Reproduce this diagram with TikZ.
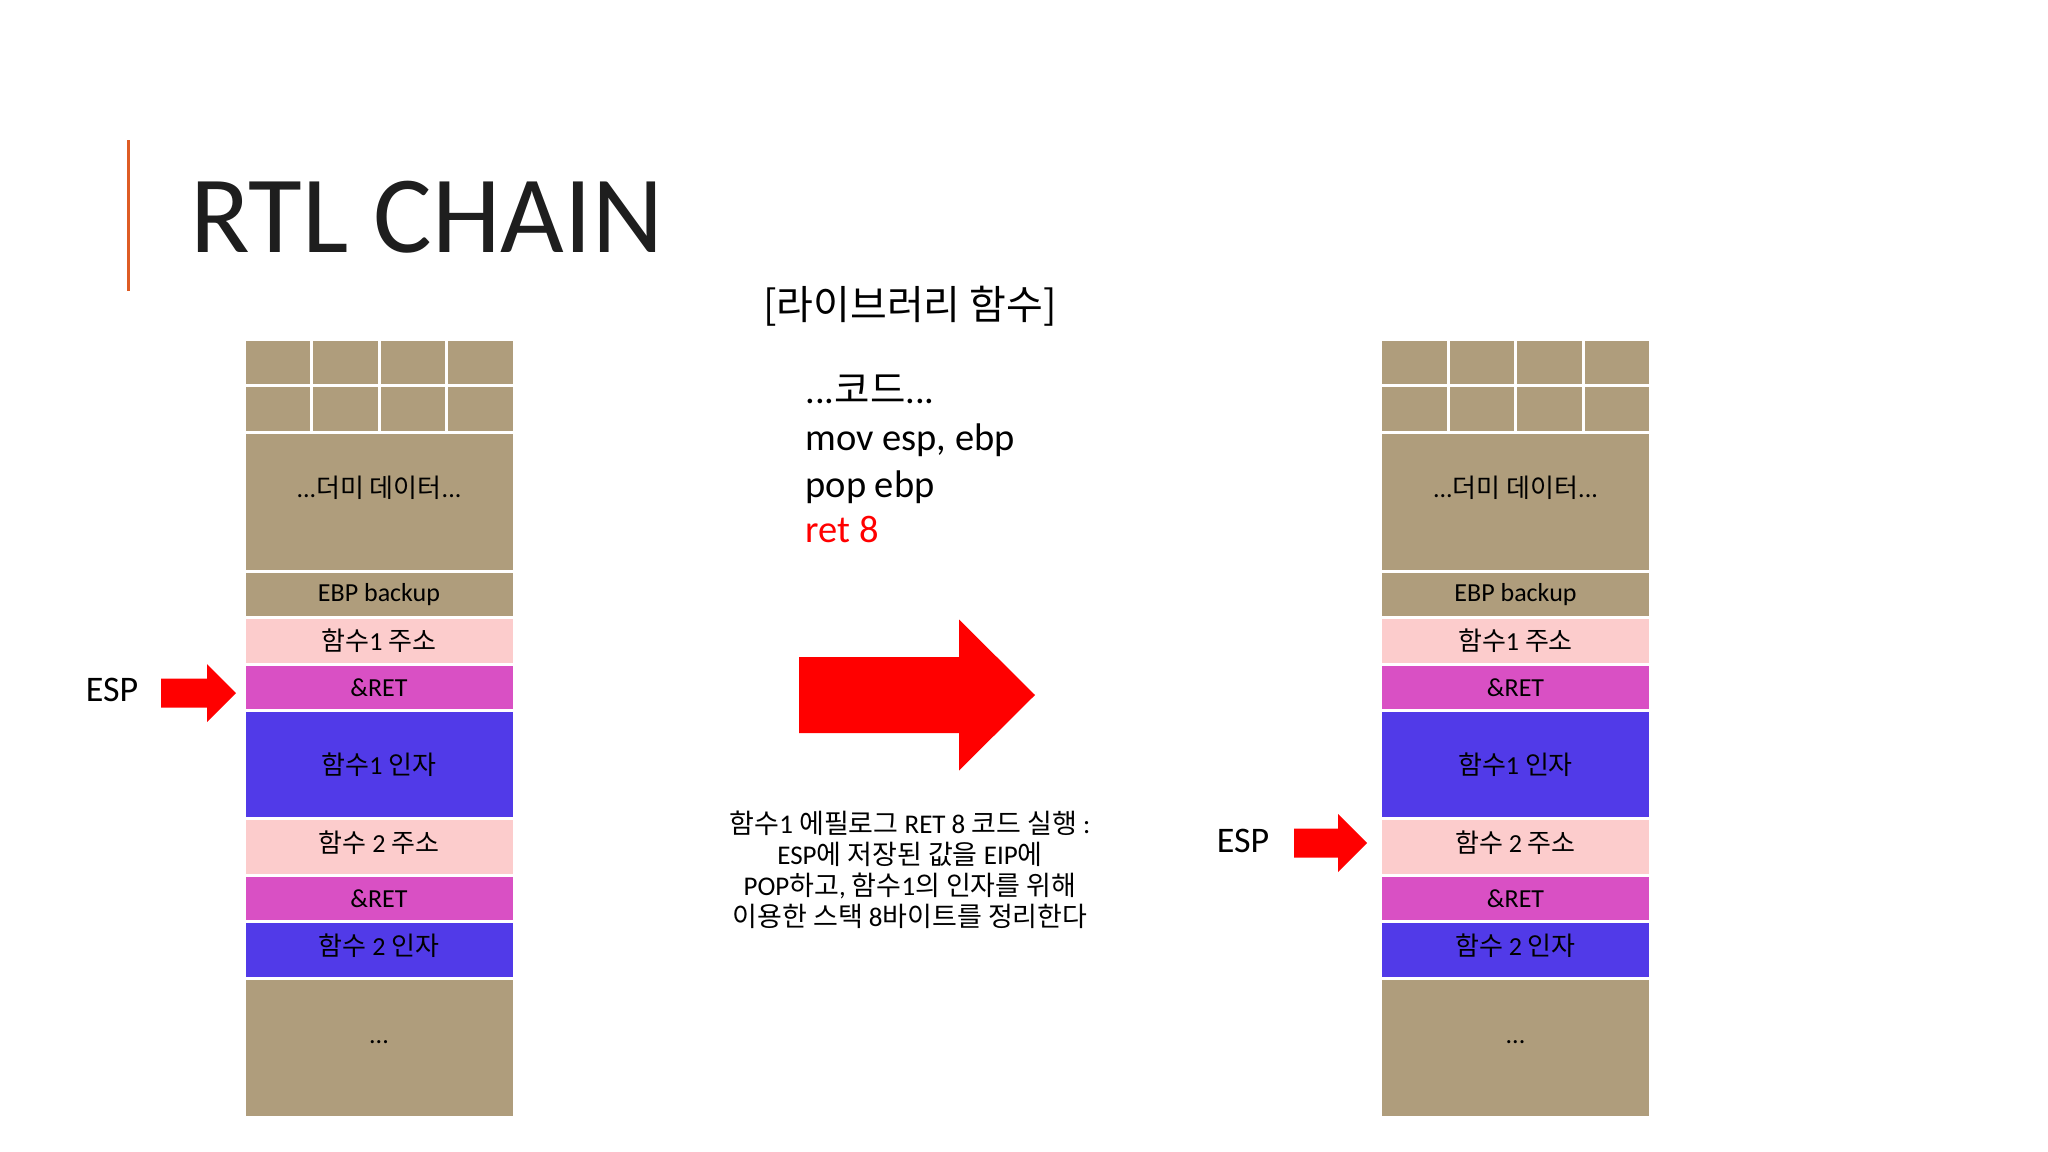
\documentclass[tikz,border=0pt]{standalone}
\usepackage{fontspec}
\setmainfont{Carlito}
\newfontfamily\krfont{Noto Sans CJK KR}
\newcommand{\ko}[1]{{\krfont #1}}
\usepackage{tikz}
\usetikzlibrary{positioning}

\definecolor{stackbrown}{RGB}{175,157,124}
\definecolor{stackpink}{RGB}{252,204,204}
\definecolor{stackmagenta}{RGB}{217,80,196}
\definecolor{stackblue}{RGB}{81,58,232}
\definecolor{titleorange}{RGB}{222,92,36}
\definecolor{titleblack}{RGB}{30,30,30}
\definecolor{arrowred}{RGB}{255,0,0}

\begin{document}
\begin{tikzpicture}[yscale=-1,
  cell/.style={draw=white,line width=3bp,inner sep=0pt,minimum width=270bp,
    text=black,font=\fontsize{26bp}{30bp}\selectfont},
  grid/.style={cell,fill=stackbrown,minimum width=67.5bp,minimum height=46.5bp},
  code/.style={anchor=base west,text=black,font=\fontsize{38.5bp}{44bp}\selectfont},
  esplabel/.style={text=black,font=\fontsize{36bp}{40bp}\selectfont},
]
\fill[white] (0bp,0bp) rectangle (2048bp,1152bp);
\useasboundingbox (0bp,0bp) rectangle (2048bp,1152bp);
%%
\draw[titleorange,line width=3bp] (128bp,140bp) -- (128bp,291bp);
\node (title) at (190bp,252bp) [anchor=base west,inner sep=0pt,text=titleblack,font=\fontsize{110bp}{114bp}\selectfont] {RTL CHAIN};
%% left stack
\node (l-g1) at (277.75bp,362.25bp) [grid] {};
\node (l-g2) at (345.25bp,362.25bp) [grid] {};
\node (l-g3) at (412.75bp,362.25bp) [grid] {};
\node (l-g4) at (480.25bp,362.25bp) [grid] {};
\node (l-g5) at (277.75bp,408.75bp) [grid] {};
\node (l-g6) at (345.25bp,408.75bp) [grid] {};
\node (l-g7) at (412.75bp,408.75bp) [grid] {};
\node (l-g8) at (480.25bp,408.75bp) [grid] {};
\node (l-dummy) at (379bp,501.75bp) [cell,fill=stackbrown,minimum height=139.5bp] {\raisebox{31bp}{...\ko{더미 데이터}...}};
\node (l-ebp) at (379bp,594.5bp) [cell,fill=stackbrown,minimum height=46bp] {\raisebox{-2bp}{EBP backup}};
\node (l-f1addr) at (379bp,641bp) [cell,fill=stackpink,minimum height=47bp] {\ko{함수}1 \ko{주소}};
\node (l-ret1) at (379bp,687.5bp) [cell,fill=stackmagenta,minimum height=46bp] {\&RET};
\node (l-f1arg) at (379bp,764.25bp) [cell,fill=stackblue,minimum height=107.5bp] {\ko{함수}1 \ko{인자}};
\node (l-f2addr) at (379bp,846.5bp) [cell,fill=stackpink,minimum height=57bp] {\raisebox{9bp}{\ko{함수} 2 \ko{주소}}};
\node (l-ret2) at (379bp,898.25bp) [cell,fill=stackmagenta,minimum height=46.5bp] {\&RET};
\node (l-f2arg) at (379bp,949.75bp) [cell,fill=stackblue,minimum height=56.5bp] {\raisebox{10bp}{\ko{함수} 2 \ko{인자}}};
\node (l-rest) at (379bp,1047.5bp) [cell,fill=stackbrown,minimum height=139bp] {\raisebox{11bp}{...}};
%% right stack
\node (r-g1) at (1414.25bp,362.25bp) [grid] {};
\node (r-g2) at (1481.75bp,362.25bp) [grid] {};
\node (r-g3) at (1549.25bp,362.25bp) [grid] {};
\node (r-g4) at (1616.75bp,362.25bp) [grid] {};
\node (r-g5) at (1414.25bp,408.75bp) [grid] {};
\node (r-g6) at (1481.75bp,408.75bp) [grid] {};
\node (r-g7) at (1549.25bp,408.75bp) [grid] {};
\node (r-g8) at (1616.75bp,408.75bp) [grid] {};
\node (r-dummy) at (1515.5bp,501.75bp) [cell,fill=stackbrown,minimum height=139.5bp] {\raisebox{31bp}{...\ko{더미 데이터}...}};
\node (r-ebp) at (1515.5bp,594.5bp) [cell,fill=stackbrown,minimum height=46bp] {\raisebox{-2bp}{EBP backup}};
\node (r-f1addr) at (1515.5bp,641bp) [cell,fill=stackpink,minimum height=47bp] {\ko{함수}1 \ko{주소}};
\node (r-ret1) at (1515.5bp,687.5bp) [cell,fill=stackmagenta,minimum height=46bp] {\&RET};
\node (r-f1arg) at (1515.5bp,764.25bp) [cell,fill=stackblue,minimum height=107.5bp] {\ko{함수}1 \ko{인자}};
\node (r-f2addr) at (1515.5bp,846.5bp) [cell,fill=stackpink,minimum height=57bp] {\raisebox{9bp}{\ko{함수} 2 \ko{주소}}};
\node (r-ret2) at (1515.5bp,898.25bp) [cell,fill=stackmagenta,minimum height=46.5bp] {\&RET};
\node (r-f2arg) at (1515.5bp,949.75bp) [cell,fill=stackblue,minimum height=56.5bp] {\raisebox{10bp}{\ko{함수} 2 \ko{인자}}};
\node (r-rest) at (1515.5bp,1047.5bp) [cell,fill=stackbrown,minimum height=139bp] {\raisebox{11bp}{...}};
%% ESP pointers
\node (l-esp) at (112bp,690bp) [esplabel] {ESP};
\coordinate (l-esptip) at (236bp,693bp);
\fill[arrowred] (l-esptip) -- ++(-29bp,-29bp) -- ++(0bp,14.5bp) -- ++(-46bp,0bp) -- ++(0bp,29bp) -- ++(46bp,0bp) -- ++(0bp,14.5bp) -- cycle;
\node (r-esp) at (1243bp,841bp) [esplabel] {ESP};
\coordinate (r-esptip) at (1367bp,843bp);
\fill[arrowred] (r-esptip) -- ++(-29bp,-29bp) -- ++(0bp,14.5bp) -- ++(-44bp,0bp) -- ++(0bp,29bp) -- ++(44bp,0bp) -- ++(0bp,14.5bp) -- cycle;
%% library code
\node (libtitle) at (910bp,306bp) [text=black,font=\krfont\fontsize{40bp}{46bp}\selectfont] {[라이브러리 함수]};
\node (code0) at (802bp,403bp) [code] {...\ko{코드}...};
\node (code1) at (802bp,450bp) [code] {mov esp, ebp};
\node (code2) at (802bp,497bp) [code] {pop ebp};
\node (code3) at (802bp,542bp) [code,text=arrowred] {ret 8};
%% transition
\coordinate (bigtip) at (1035bp,695bp);
\fill[arrowred] (bigtip) -- ++(-76bp,-75.5bp) -- ++(0bp,37.5bp) -- ++(-160bp,0bp) -- ++(0bp,76bp) -- ++(160bp,0bp) -- ++(0bp,37.5bp) -- cycle;
\node (note) at (910bp,870bp) [align=center,text=black,font=\fontsize{27bp}{31bp}\selectfont] {%
  \ko{함수}1 \ko{에필로그} RET 8 \ko{코드 실행} :\\
  ESP\ko{에 저장된 값을} EIP\ko{에}\\
  POP\ko{하고}, \ko{함수}1\ko{의 인자를 위해}\\
  \ko{이용한 스택} 8\ko{바이트를 정리한다}};
%
\end{tikzpicture}
\end{document}
